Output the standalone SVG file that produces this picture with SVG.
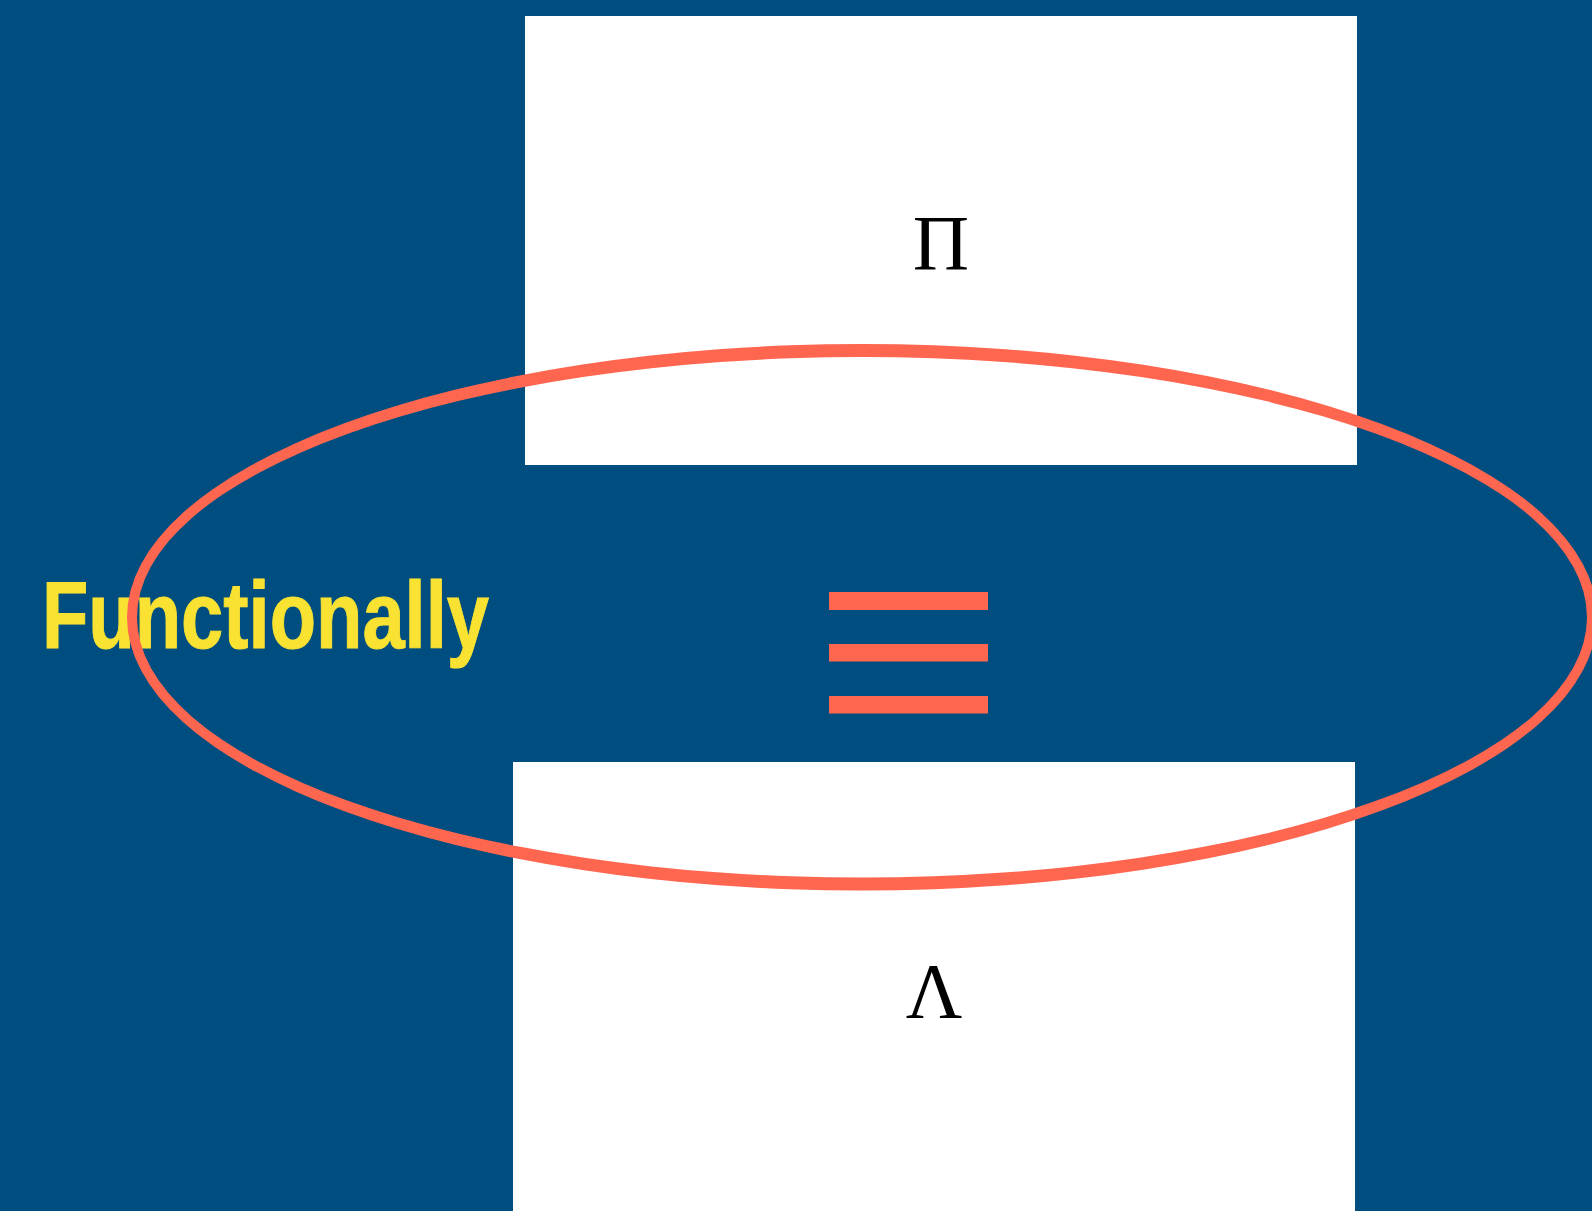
<svg xmlns="http://www.w3.org/2000/svg" width="1592" height="1211" viewBox="0 0 1592 1211">
<style>
.box{fill:#ffffff}
.sym{font-family:"Liberation Serif","Times New Roman",serif;font-size:78px;fill:#000000;text-anchor:middle}
.label{font-family:"Liberation Sans",Arial,sans-serif;font-weight:bold;font-size:94px;fill:#F9E231}
.red{fill:#FF6650}
</style>
<rect x="0" y="0" width="1592" height="1211" fill="#004E7F"/>
<g id="node-pi">
<rect class="box" x="525" y="16" width="832" height="449"/>
<text class="sym" x="941" y="269">Π</text>
</g>
<g id="node-lambda">
<rect class="box" x="513" y="762" width="842" height="449"/>
<text class="sym" x="934" y="1017">Λ</text>
</g>
<g id="label-functionally">
<text class="label" x="42" y="648" textLength="447" lengthAdjust="spacingAndGlyphs" stroke="#F9E231" stroke-width="1">Functionally</text>
</g>
<g id="equiv">
<rect class="red" x="829" y="592" width="159" height="18"/>
<rect class="red" x="829" y="644" width="159" height="17.5"/>
<rect class="red" x="829" y="696" width="159" height="17.5"/>
</g>
<g id="connectors">
<path class="red" fill-rule="evenodd" d="M 127,617.3 a 735,273.3 0 1,0 1470,0 a 735,273.3 0 1,0 -1470,0 Z M 137,617.3 a 725,260.3 0 1,0 1450,0 a 725,260.3 0 1,0 -1450,0 Z"/>
</g>
</svg>
